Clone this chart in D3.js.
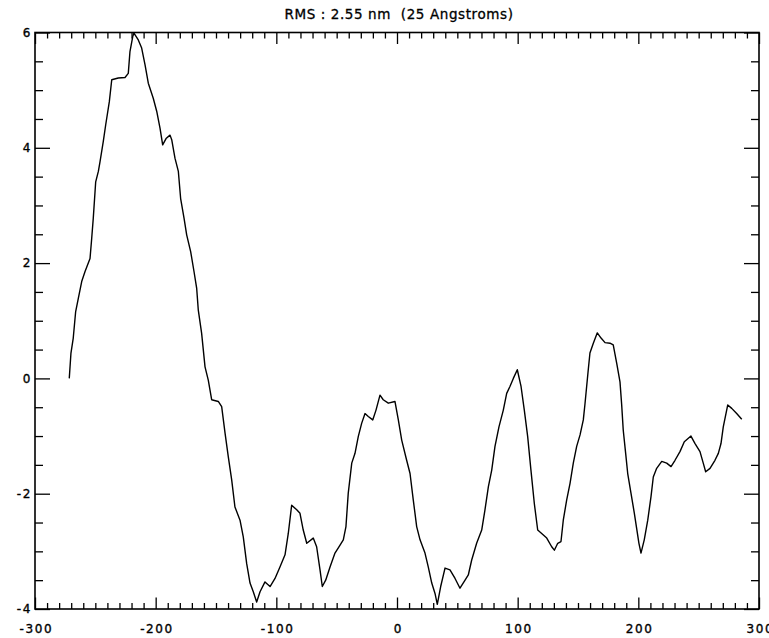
<!DOCTYPE html>
<html>
<head>
<meta charset="utf-8">
<script src="https://cdn.jsdelivr.net/npm/d3@7"></script>
<style>
  html, body { margin: 0; padding: 0; background: #fff; }
  svg { display: block; }
  text { font-family: "DejaVu Sans", sans-serif; fill: #000; }
</style>
</head>
<body>
<script>
// Surface profile: position (x) and height (y) of each sample
const posX = [
  -271.6, -270.2, -268.3, -266.3, -264.1, -261.3, -258.6, -254.4, -253.0, -251.7,
  -249.7, -247.5, -246.1, -243.4, -241.4, -238.4, -236.4, -231.0, -225.4, -222.7,
  -221.3, -219.0, -218.0, -214.4, -211.6, -208.8, -206.1, -202.0, -199.1, -196.4,
  -194.2, -191.4, -188.1, -186.7, -184.0, -181.2, -179.3, -176.5, -174.3, -171.0,
  -168.2, -166.0, -164.7, -161.9, -159.1, -156.4, -153.6, -148.1, -145.3, -142.5,
  -139.8, -137.0, -134.3, -130.1, -127.4, -124.6, -121.8, -119.1, -116.3, -113.5,
  -109.4, -105.2, -101.1, -97.0, -92.8, -90.1, -87.3, -83.1, -80.4, -77.7,
  -74.8, -69.4, -66.6, -63.8, -61.9, -59.1, -55.5, -51.4, -47.2, -44.5,
  -42.3, -40.4, -37.5, -34.8, -32.1, -29.3, -26.5, -23.8, -20.1, -17.4,
  -14.1, -11.4, -7.2, -1.7, 1.1, 3.9, 8.0, 10.8, 13.5, 16.3,
  19.1, 23.2, 25.9, 28.8, 31.5, 33.4, 36.2, 39.8, 43.9, 48.1,
  52.2, 56.4, 59.1, 61.9, 66.0, 70.2, 72.9, 75.7, 78.5, 81.2,
  84.5, 88.1, 90.9, 93.6, 96.4, 99.7, 102.8, 105.5, 108.3, 111.0,
  113.8, 116.6, 119.9, 124.1, 128.2, 130.4, 133.2, 135.9, 137.8, 140.6,
  143.4, 146.1, 148.9, 151.7, 154.4, 155.8, 158.5, 159.9, 162.7, 166.0,
  169.1, 172.4, 176.5, 179.2, 182.1, 184.8, 186.2, 187.5, 189.5, 191.2,
  193.9, 196.7, 198.6, 200.5, 202.2, 204.9, 207.8, 210.5, 212.4, 215.2,
  219.4, 223.5, 227.1, 230.4, 234.5, 238.1, 243.6, 247.0, 251.1, 253.8,
  255.8, 259.4, 263.5, 266.3, 268.5, 270.4, 274.1, 277.4, 281.5, 285.7
];
const surfHeight = [
  0.00, 0.44, 0.70, 1.16, 1.39, 1.68, 1.85, 2.08, 2.43, 2.78,
  3.41, 3.59, 3.76, 4.11, 4.40, 4.80, 5.18, 5.21, 5.22, 5.29,
  5.67, 5.93, 5.99, 5.87, 5.73, 5.44, 5.12, 4.86, 4.63, 4.34,
  4.05, 4.16, 4.22, 4.14, 3.82, 3.59, 3.12, 2.78, 2.49, 2.20,
  1.85, 1.56, 1.19, 0.78, 0.20, -0.03, -0.37, -0.40, -0.49, -0.95,
  -1.36, -1.76, -2.23, -2.46, -2.75, -3.21, -3.55, -3.70, -3.88, -3.70,
  -3.53, -3.61, -3.47, -3.27, -3.06, -2.69, -2.20, -2.28, -2.34, -2.63,
  -2.86, -2.77, -2.92, -3.32, -3.61, -3.50, -3.27, -3.03, -2.89, -2.80,
  -2.57, -1.99, -1.47, -1.30, -1.01, -0.78, -0.61, -0.66, -0.72, -0.55,
  -0.29, -0.37, -0.43, -0.40, -0.72, -1.07, -1.42, -1.65, -2.11, -2.57,
  -2.80, -3.03, -3.27, -3.55, -3.73, -3.92, -3.61, -3.29, -3.32, -3.47,
  -3.64, -3.50, -3.41, -3.15, -2.86, -2.63, -2.28, -1.88, -1.59, -1.18,
  -0.84, -0.55, -0.26, -0.14, 0.00, 0.15, -0.14, -0.55, -1.01, -1.59,
  -2.17, -2.63, -2.69, -2.77, -2.92, -2.98, -2.86, -2.83, -2.46, -2.11,
  -1.82, -1.47, -1.18, -0.98, -0.72, -0.44, 0.15, 0.44, 0.61, 0.79,
  0.70, 0.62, 0.61, 0.58, 0.26, -0.06, -0.46, -0.90, -1.30, -1.65,
  -1.99, -2.34, -2.60, -2.86, -3.03, -2.80, -2.46, -2.05, -1.71, -1.56,
  -1.44, -1.47, -1.53, -1.42, -1.27, -1.10, -1.00, -1.13, -1.27, -1.47,
  -1.62, -1.56, -1.42, -1.30, -1.13, -0.84, -0.46, -0.52, -0.61, -0.71
];

const titleText = "RMS : 2.55 nm  (25 Angstroms)";
const xDomain = [-300, 300];
const yDomain = [-4, 6];
const xMajor = [-300, -200, -100, 0, 100, 200, 300];
const xMajorLabels = ["-300", "-200", "-100", "0", "100", "200", "300"];
const yMajor = [-4, -2, 0, 2, 4, 6];
const yMajorLabels = ["-4", "-2", "0", "2", "4", "6"];

const W = 769, H = 638;
const plotL = 35, plotR = 759, plotT = 32.5, plotB = 609;

const svg = d3.select("body").append("svg")
  .attr("width", W).attr("height", H);

const x = d3.scaleLinear().domain(xDomain).range([plotL, plotR]);
const y = d3.scaleLinear().domain(yDomain).range([plotB, plotT]);

const xMinor = d3.range(-300, 301, 10).filter(v => !xMajor.includes(v));
const yMinor = d3.range(-4, 6.01, 0.5).filter(v => !yMajor.includes(v));

const xMajLen = 11.5, xMinLen = 6;
const yMajLen = 15, yMinLen = 8;

function styleAxis(g) {
  g.select(".domain").remove();
  g.selectAll(".tick line").attr("stroke", "#000").attr("stroke-width", 1.3);
  g.selectAll("text")
    .attr("font-size", 12)
    .attr("fill", "#000")
    .attr("stroke", "#000")
    .attr("stroke-width", 0.35)
    .style("letter-spacing", "1.6px")
    .style("font-family", "\"DejaVu Sans\", sans-serif");
}

// bottom axis: inward ticks + labels
svg.append("g").attr("transform", `translate(0,${plotB})`)
  .call(d3.axisBottom(x).tickValues(xMajor).tickSize(-xMajLen).tickPadding(15)
    .tickFormat((d, i) => xMajorLabels[i]))
  .call(styleAxis)
  .call(g => g.selectAll("text").attr("dx", "0.8px"));
svg.append("g").attr("transform", `translate(0,${plotB})`)
  .call(d3.axisBottom(x).tickValues(xMinor).tickSize(-xMinLen).tickFormat(""))
  .call(styleAxis);
// top axis: ticks only
svg.append("g").attr("transform", `translate(0,${plotT})`)
  .call(d3.axisTop(x).tickValues(xMajor).tickSize(-xMajLen).tickFormat(""))
  .call(styleAxis);
svg.append("g").attr("transform", `translate(0,${plotT})`)
  .call(d3.axisTop(x).tickValues(xMinor).tickSize(-xMinLen).tickFormat(""))
  .call(styleAxis);
// left axis: inward ticks + labels
svg.append("g").attr("transform", `translate(${plotL},0)`)
  .call(d3.axisLeft(y).tickValues(yMajor).tickSize(-yMajLen).tickPadding(3)
    .tickFormat((d, i) => yMajorLabels[i]))
  .call(styleAxis);
svg.append("g").attr("transform", `translate(${plotL},0)`)
  .call(d3.axisLeft(y).tickValues(yMinor).tickSize(-yMinLen).tickFormat(""))
  .call(styleAxis);
// right axis: ticks only
svg.append("g").attr("transform", `translate(${plotR},0)`)
  .call(d3.axisRight(y).tickValues(yMajor).tickSize(-yMajLen).tickFormat(""))
  .call(styleAxis);
svg.append("g").attr("transform", `translate(${plotR},0)`)
  .call(d3.axisRight(y).tickValues(yMinor).tickSize(-yMinLen).tickFormat(""))
  .call(styleAxis);

// plot frame
svg.append("rect")
  .attr("x", plotL).attr("y", plotT)
  .attr("width", plotR - plotL).attr("height", plotB - plotT)
  .attr("fill", "none").attr("stroke", "#000").attr("stroke-width", 1.6);

// profile line
const pts = posX.map((v, i) => [v, surfHeight[i]]);
svg.append("path")
  .datum(pts)
  .attr("fill", "none")
  .attr("stroke", "#000")
  .attr("stroke-width", 1.4)
  .attr("stroke-linejoin", "round")
  .attr("d", d3.line().x(d => x(d[0])).y(d => y(d[1])));

// title
svg.append("text")
  .attr("x", (plotL + plotR) / 2 + 2)
  .attr("y", 19)
  .attr("text-anchor", "middle")
  .attr("font-size", 13.5)
  .attr("stroke", "#000")
  .attr("stroke-width", 0.3)
  .style("letter-spacing", "0.6px")
  .style("white-space", "pre")
  .attr("xml:space", "preserve")
  .text(titleText);
</script>
</body>
</html>
